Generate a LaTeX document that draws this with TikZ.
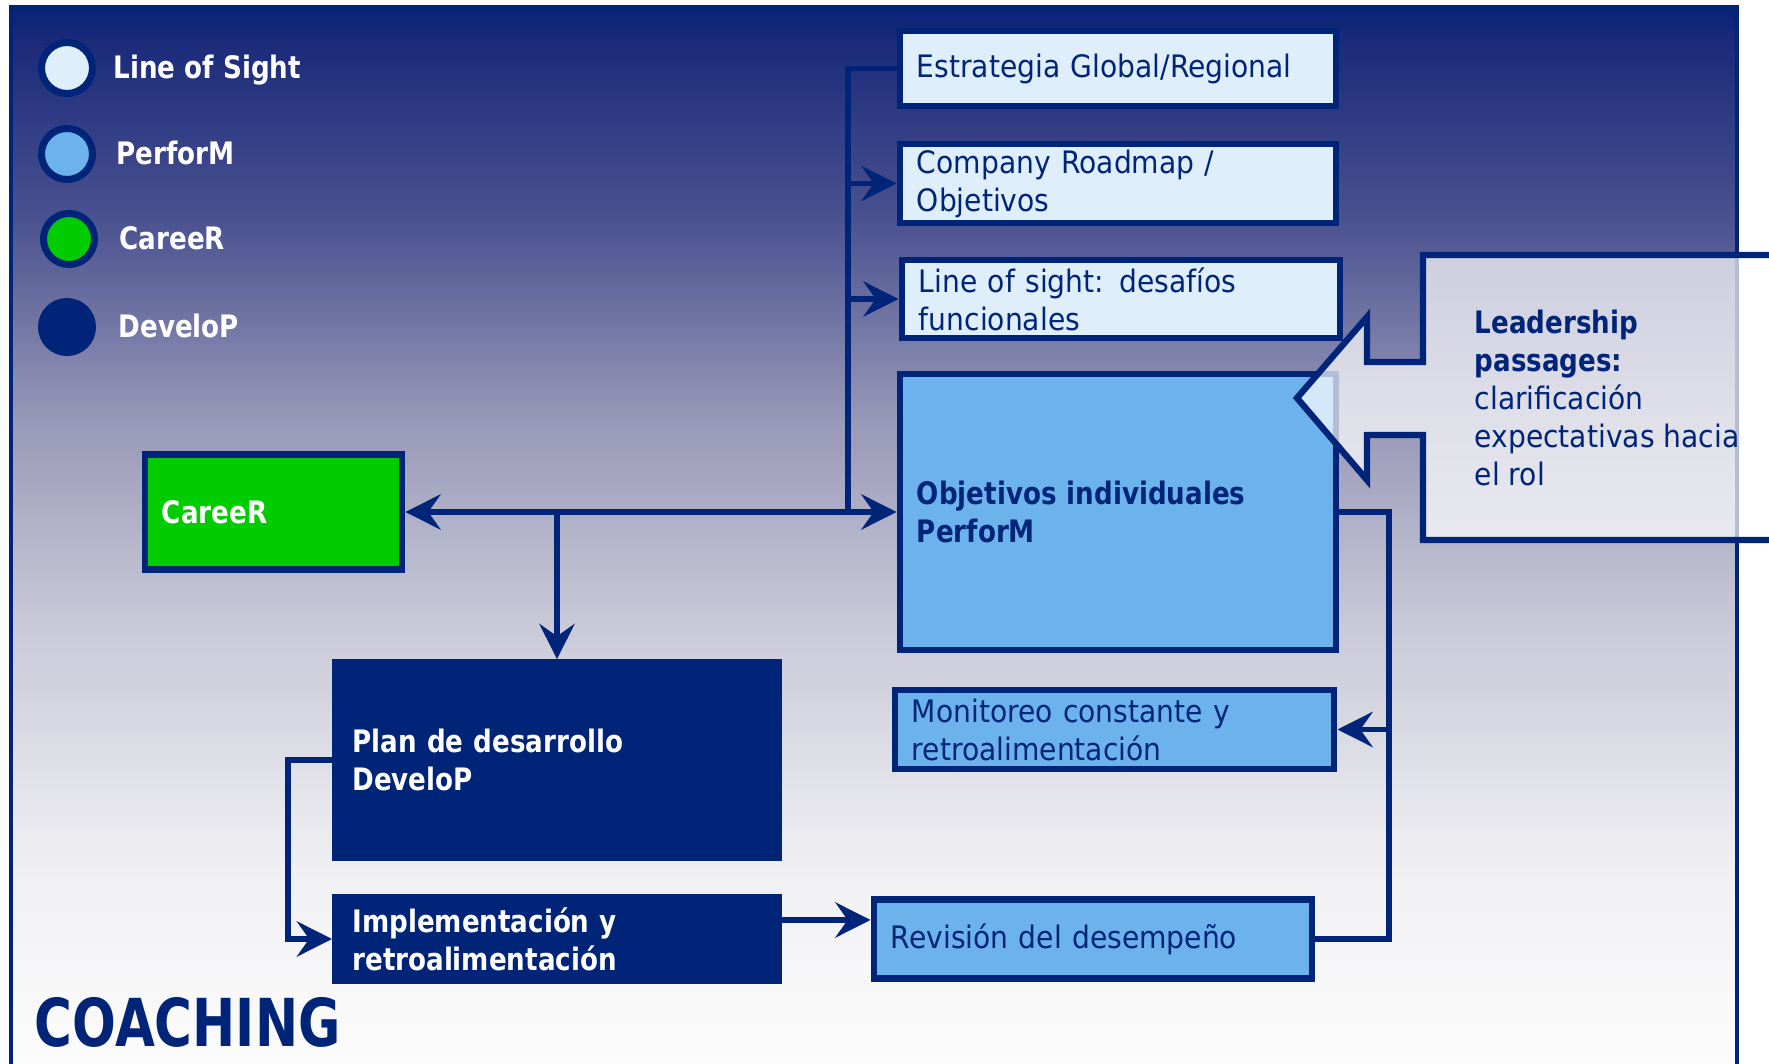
\documentclass[tikz,border=0pt]{standalone}
\usepackage{fontspec}
\setmainfont{DejaVu Sans}[FakeStretch=0.91]
\newfontfamily\hdfont{DejaVu Sans}[FakeStretch=0.845]
\newfontfamily\ttlfont{DejaVu Sans}[FakeStretch=0.78]
\usetikzlibrary{arrows.meta}

\definecolor{navy}{RGB}{0,36,120}
\definecolor{paleblue}{RGB}{223,238,251}
\definecolor{midblue}{RGB}{108,178,236}
\definecolor{careergreen}{RGB}{0,204,0}
\definecolor{shA}{RGB}{8,34,120}
\definecolor{shAb}{RGB}{26,42,122}
\definecolor{shB}{RGB}{74,82,144}
\definecolor{shC}{RGB}{152,152,184}
\definecolor{shD}{RGB}{200,200,216}
\definecolor{shE}{RGB}{240,240,243}
\definecolor{shF}{RGB}{252,252,252}

\pgfdeclareverticalshading{panelshade}{100bp}{color(0bp)=(shF); color(25.7bp)=(shF); color(34.8bp)=(shE); color(46.4bp)=(shD); color(55.75bp)=(shC); color(65.1bp)=(shB); color(73.5bp)=(shAb); color(75bp)=(shA); color(100bp)=(shA)}

\tikzset{
  >={Stealth[length=10pt,width=10pt,inset=3.5pt]},
  box/.style n args={3}{rectangle, draw=navy, line width=1.9pt, inner xsep=0.17cm, inner ysep=0pt,
    align=left, text=navy, minimum width=#1, minimum height=#2, text width=#3,
    font=\fontsize{8.8}{10.8}\selectfont},
  pale/.style={fill=paleblue},
  mid/.style={fill=midblue},
  boldtext/.style={font=\hdfont\bfseries\fontsize{8.8}{10.8}\selectfont},
  dark/.style={fill=navy, text=white, boldtext},
  legdot/.style={circle, draw=navy, line width=2pt, minimum size=0.51cm, inner sep=0pt},
  legtext/.style={anchor=base west, inner sep=0pt, text=white, boldtext},
  wire/.style={draw=navy, line width=1.7pt},
}

\begin{document}
\begin{tikzpicture}[x=0.01cm, y=-0.01cm]
\useasboundingbox (0,0) rectangle (1769,1064);
\clip (0,0) rectangle (1769,1064);

\shade[shading=panelshade] (11,7) rectangle (1737,1080);
\draw[navy, line width=1.4pt] (11,1080) -- (11,7) -- (1737,7) -- (1737,1080);

\node[legdot, fill=paleblue] (dotlos) at (67,68) {};
\node[legdot, fill=midblue] (dotperf) at (67,154) {};
\node[legdot, fill=careergreen] (dotcar) at (69,239) {};
\node[legdot, fill=navy] (dotdev) at (67,327) {};
\node[legtext] (leglos) at (113,79) {Line of Sight};
\node[legtext] (legperf) at (116,165) {PerforM};
\node[legtext] (legcar) at (119,250) {CareeR};
\node[legtext] (legdev) at (118,338) {DeveloP};

\node[box={4.36cm}{0.75cm}{4.02cm}, pale] (estr) at (1118,68.5) {Estrategia Global/Regional};
\node[box={4.36cm}{0.79cm}{4.02cm}, pale] (comp) at (1118,183.5) {Company Roadmap /\\Objetivos};
\node[box={4.38cm}{0.78cm}{4.04cm}, pale] (los) at (1121,299) {Line of sight: desafíos\\funcionales};
\node[box={4.36cm}{2.76cm}{4.02cm}, mid, boldtext] (perf) at (1118,512) {Objetivos individuales\\PerforM};
\node[box={4.39cm}{0.79cm}{4.05cm}, mid] (mon) at (1114.5,729.5) {Monitoreo constante y\\retroalimentación};
\node[box={4.38cm}{0.79cm}{4.04cm}, mid] (rev) at (1093,939) {Revisión del desempeño};
\node[box={2.57cm}{1.15cm}{2.23cm}, fill=careergreen, text=white, boldtext] (car) at (273.5,512) {CareeR};
\node[box={4.43cm}{1.95cm}{4.09cm}, dark] (plan) at (557,760) {Plan de desarrollo\\DeveloP};
\node[box={4.43cm}{0.83cm}{4.09cm}, dark] (impl) at (557,939) {Implementación y\\retroalimentación};

\coordinate (trunk) at (848,512);
\coordinate (loopL) at (288,760);
\coordinate (loopR) at (1389,939);

\draw[wire] (estr.west) -| (trunk);
\draw[wire, ->] (trunk |- comp.west) -- (comp.west);
\draw[wire, ->] (trunk |- los.west) -- (los.west);
\draw[wire, <->] (car.east) -- (perf.west);
\draw[wire, ->] (car.east -| plan.north) -- (plan.north);
\draw[wire, ->] (plan.west) -- (loopL) |- (impl.west);
\draw[wire, ->] ([yshift=0.19cm]impl.east) -- ([yshift=0.19cm]rev.west);
\draw[wire] (rev.east) -- (loopR) |- (perf.east);
\draw[wire, ->] (loopR |- mon.east) -- (mon.east);

\fill[white, fill opacity=0.7] (1790,255) -- (1423,255) -- (1423,362) -- (1367,362) -- (1367,317) -- (1297,398) -- (1367,480) -- (1367,435) -- (1423,435) -- (1423,540) -- (1790,540) -- cycle;
\draw[navy, line width=1.8pt] (1790,255) -- (1423,255) -- (1423,362) -- (1367,362) -- (1367,317) -- (1297,398) -- (1367,480) -- (1367,435) -- (1423,435) -- (1423,540) -- (1790,540);
\node[anchor=west, inner sep=0pt, align=left, text=navy, font=\fontsize{8.8}{10.8}\selectfont] (leadtxt) at (1474,398)
  {{\hdfont\bfseries Leadership}\\{\hdfont\bfseries passages:}\\clarificación\\expectativas hacia\\el rol};

\node[anchor=base west, inner sep=0pt, text=navy, font=\ttlfont\bfseries\fontsize{18.8}{20}\selectfont] (coach) at (34,1046) {COACHING};
\end{tikzpicture}
\end{document}
